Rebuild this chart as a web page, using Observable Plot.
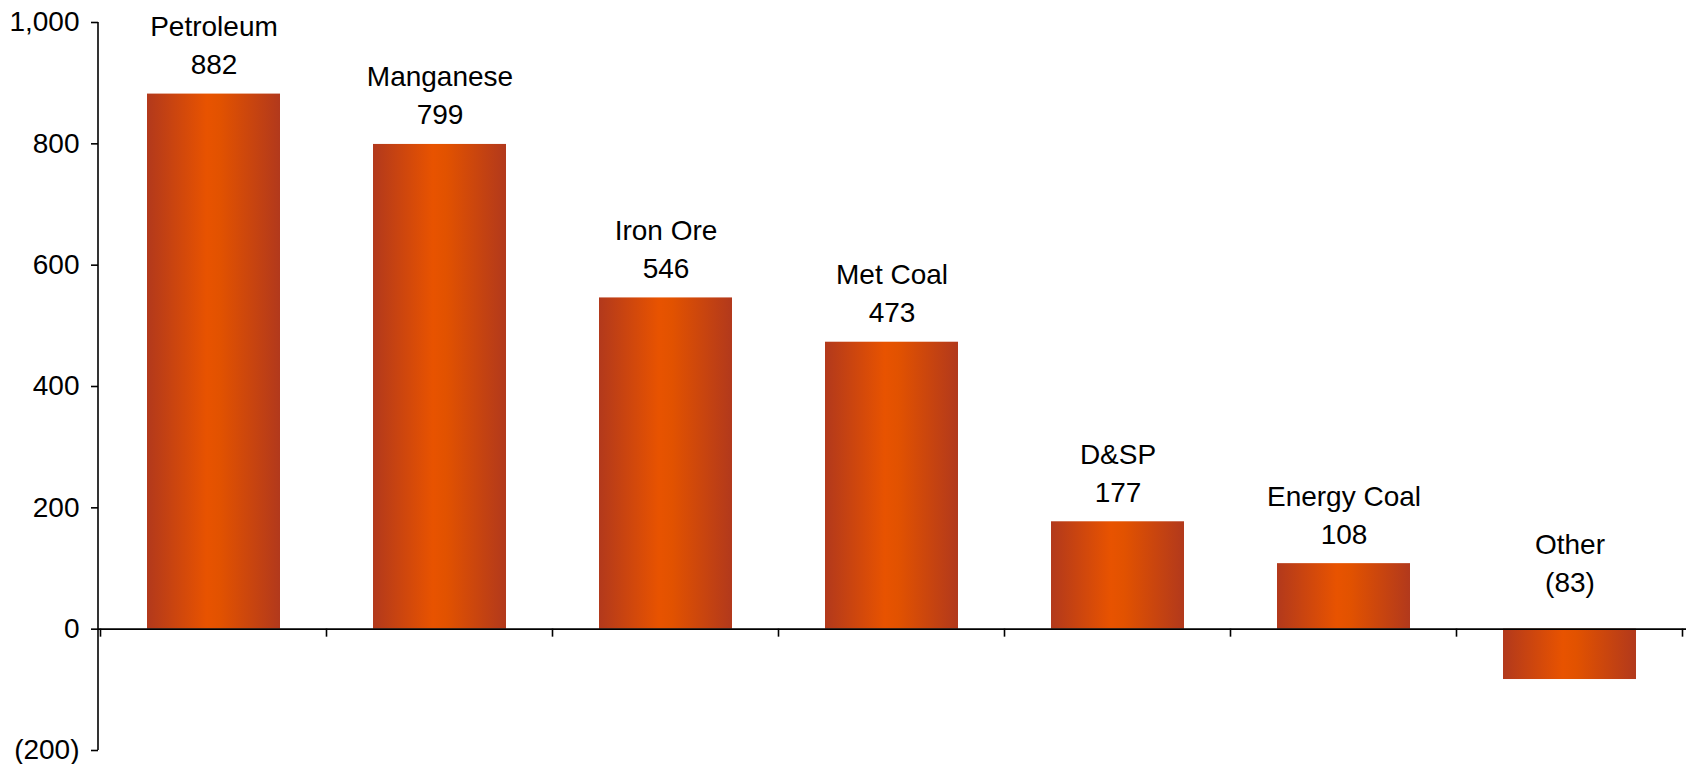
<!DOCTYPE html>
<html>
<head>
<meta charset="utf-8">
<script src="https://cdn.jsdelivr.net/npm/d3@7"></script>
<script src="https://cdn.jsdelivr.net/npm/@observablehq/plot@0.6"></script>
<style>
  html, body { margin: 0; padding: 0; background: #fff; }
  #chart { width: 1690px; height: 764px; }
</style>
</head>
<body>
<div id="chart"></div>
<script>
const categories = ["Petroleum", "Manganese", "Iron Ore", "Met Coal", "D&SP", "Energy Coal", "Other"];
const values = [882, 799, 546, 473, 177, 108, -83];
const yTicks = [-200, 0, 200, 400, 600, 800, 1000];

const data = categories.map((c, i) => ({category: c, value: values[i]}));

const fmt = d3.format(",");
const fmtVal = v => v < 0 ? `(${fmt(-v)})` : fmt(v);

const FONT = "'Liberation Sans', Arial, sans-serif";

const labelOpts = (dy) => ({
  x: "category",
  y: d => Math.max(0, d.value),
  text: d => `${d.category}\n${fmtVal(d.value)}`,
  lineAnchor: "bottom",
  lineHeight: 1.36,
  dy,
  fontSize: 28,
  fill: "#000"
});

const plot = Plot.plot({
  width: 1690,
  height: 764,
  marginTop: 22,
  marginBottom: 14,
  marginLeft: 98,
  marginRight: 4,
  style: {fontFamily: FONT, fontSize: "28px", color: "#000", background: "#fff"},
  x: {domain: categories, paddingInner: 0.41, paddingOuter: 0.205, axis: null},
  y: {domain: [-200, 1000], axis: null},
  marks: [
    Plot.barY(data, {x: "category", y: "value", fill: "url(#barGrad)"}),
    Plot.ruleY([0], {stroke: "#000", strokeWidth: 1.6}),
    Plot.axisY(yTicks, {
      anchor: "left",
      label: null,
      tickSize: 7,
      tickPadding: 12,
      tickFormat: fmtVal,
      fontSize: 28,
      stroke: "#000",
      strokeWidth: 1.6,
      fill: "#000"
    }),
    Plot.text(data.filter(d => d.value >= 0), labelOpts(-20)),
    Plot.text(data.filter(d => d.value < 0), labelOpts(-37))
  ]
});

const svg = d3.select(plot);

// gradient
const defs = svg.insert("defs", ":first-child");
const grad = defs.append("linearGradient").attr("id", "barGrad").attr("x1", "0").attr("x2", "1").attr("y1", "0").attr("y2", "0");
grad.append("stop").attr("offset", "0%").attr("stop-color", "#b2391c");
grad.append("stop").attr("offset", "45%").attr("stop-color", "#e85300");
grad.append("stop").attr("offset", "55%").attr("stop-color", "#e25200");
grad.append("stop").attr("offset", "100%").attr("stop-color", "#b2391c");

// y axis line and category boundary ticks from Plot's own scales
const xs = plot.scale("x");
const ys = plot.scale("y");
const x0 = xs.range[0];
const axisG = svg.append("g").attr("stroke", "#000").attr("stroke-width", 1.6);
axisG.append("line")
  .attr("x1", x0).attr("x2", x0)
  .attr("y1", ys.apply(1000)).attr("y2", ys.apply(-200));
const y0 = ys.apply(0);
for (let i = 0; i <= categories.length; i++) {
  const bx = i < categories.length
    ? xs.apply(categories[i]) + xs.bandwidth / 2 - xs.step / 2
    : xs.apply(categories[i - 1]) + xs.bandwidth / 2 + xs.step / 2;
  axisG.append("line").attr("x1", bx).attr("x2", bx).attr("y1", y0).attr("y2", y0 + 8);
}

document.getElementById("chart").appendChild(plot);
</script>
</body>
</html>
